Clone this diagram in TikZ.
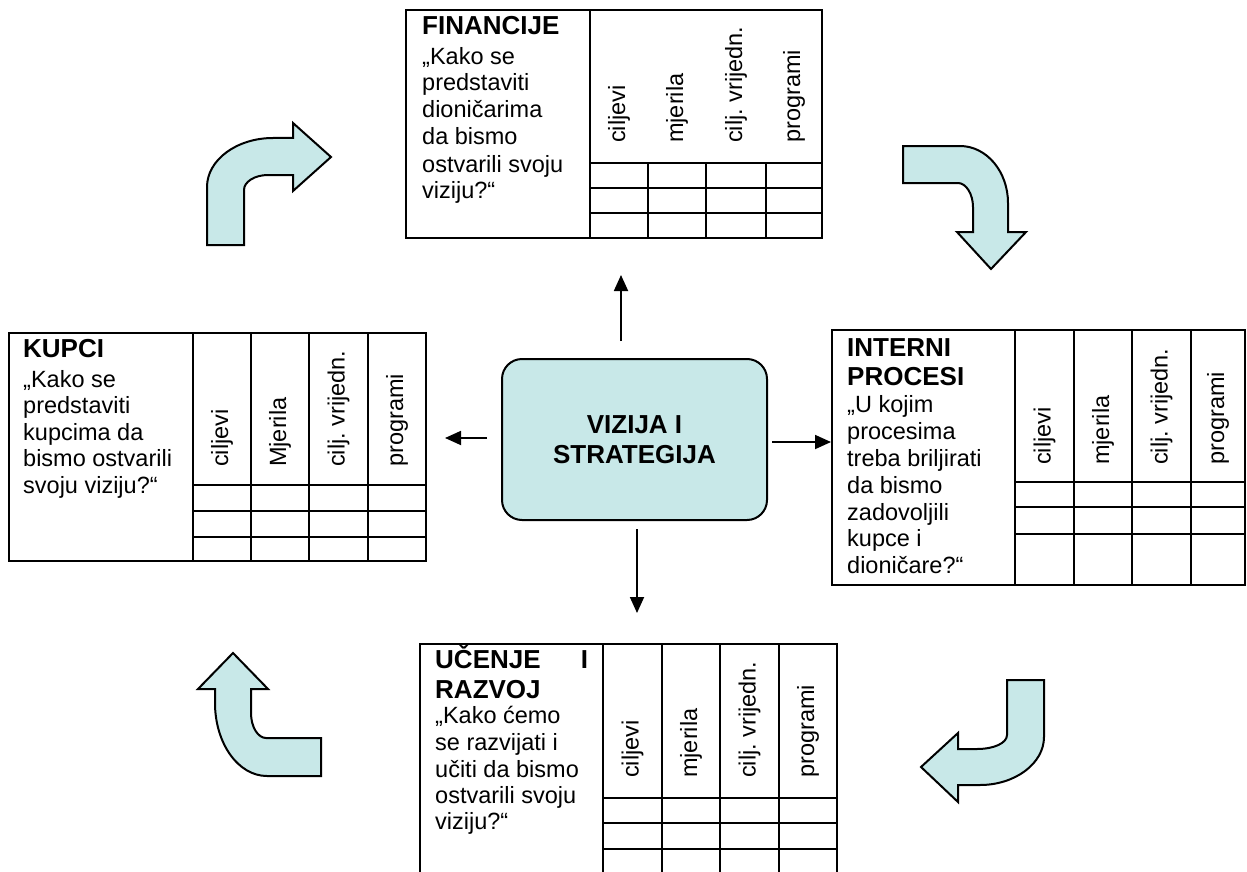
\documentclass[tikz,border=0pt]{standalone}
\usepackage{fontspec}
\setmainfont{Liberation Sans}
\usetikzlibrary{arrows.meta}
\definecolor{fillblue}{RGB}{200,232,232}
\frenchspacing
\begin{document}
\begin{tikzpicture}[x=1pt,y=-1pt,
  panel/.style={draw, line width=2pt, rectangle, inner sep=0pt, outer sep=0pt, anchor=north west},
  gridline/.style={line width=2pt},
  body/.style={anchor=base west, inner sep=0pt, font=\fontsize{23.5}{27}\selectfont},
  titletxt/.style={anchor=base west, inner sep=0pt, font=\fontsize{26}{30}\selectfont\bfseries},
  collabel/.style={rotate=90, anchor=west, inner sep=0pt, font=\fontsize{23.5}{27}\selectfont},
  conn/.style={line width=1.8pt, -{Triangle[length=16pt,width=14pt]}},
  blockarrow/.style={draw, line width=2pt, fill=fillblue, line join=miter}]
\useasboundingbox (0,0) rectangle (1247,872);

% ---------- FINANCIJE ----------
\node[panel, minimum width=416, minimum height=228] (fin) at (406,10) {};
\draw[gridline] (590,10) -- (590,238);
\foreach \x in {648,706,766} \draw[gridline] (\x,163) -- (\x,238);
\foreach \y in {163,188,213} \draw[gridline] (590,\y) -- (822,\y);
\node[titletxt] (fin-t) at (422,35) {FINANCIJE};
\foreach \yy/\t [count=\i] in {65/{„Kako se},91/{predstaviti},118/{dioničarima},145/{da bismo},172/{ostvarili svoju},198/{viziju?“}}
  \node[body] (fin-\i) at (422,\yy) {\t};
\foreach \xx/\t [count=\i] in {619/{ciljevi},677/{mjerila},736/{cilj. vrijedn.},794/{programi}}
  \node[collabel] (finc-\i) at (\xx,143) {\t};

% ---------- KUPCI ----------
\node[panel, minimum width=417, minimum height=228] (kup) at (9,333) {};
\draw[gridline] (193,333) -- (193,561);
\foreach \x in {251,309,368} \draw[gridline] (\x,333) -- (\x,561);
\foreach \y in {485,511,537} \draw[gridline] (193,\y) -- (426,\y);
\node[titletxt] (kup-t) at (23,357) {KUPCI};
\foreach \yy/\t [count=\i] in {387/{„Kako se},413/{predstaviti},440/{kupcima da},466/{bismo ostvarili},493/{svoju viziju?“}}
  \node[body] (kup-\i) at (23,\yy) {\t};
\foreach \xx/\t [count=\i] in {222/{ciljevi},280/{Mjerila},338.5/{cilj. vrijedn.},397/{programi}}
  \node[collabel] (kupc-\i) at (\xx,467) {\t};

% ---------- INTERNI PROCESI ----------
\node[panel, minimum width=413, minimum height=255] (int) at (832,330) {};
\draw[gridline] (1015,330) -- (1015,585);
\foreach \x in {1074,1132,1191} \draw[gridline] (\x,330) -- (\x,585);
\foreach \y in {482,507,534} \draw[gridline] (1015,\y) -- (1245,\y);
\node[titletxt] (int-t1) at (847,356) {INTERNI};
\node[titletxt] (int-t2) at (847,385) {PROCESI};
\foreach \yy/\t [count=\i] in {412/{„U kojim},439/{procesima},466/{treba briljirati},493/{da bismo},520/{zadovoljili},546/{kupce i},573/{dioničare?“}}
  \node[body] (int-\i) at (847,\yy) {\t};
\foreach \xx/\t [count=\i] in {1044.5/{ciljevi},1103/{mjerila},1161.5/{cilj. vrijedn.},1218/{programi}}
  \node[collabel] (intc-\i) at (\xx,465) {\t};

% ---------- UCENJE I RAZVOJ ----------
\node[panel, minimum width=417, minimum height=250] (uce) at (420,644) {};
\draw[gridline] (603,644) -- (603,894);
\foreach \x in {662,720,779} \draw[gridline] (\x,644) -- (\x,894);
\foreach \y in {798,823,849} \draw[gridline] (603,\y) -- (837,\y);
\node[titletxt] (uce-t1) at (435,668) {\makebox[153pt][s]{UČENJE\hfill I}};
\node[titletxt] (uce-t2) at (435,698) {RAZVOJ};
\foreach \yy/\t [count=\i] in {723/{„Kako ćemo},750/{se razvijati i},777/{učiti da bismo},803/{ostvarili svoju},829/{viziju?“}}
  \node[body] (uce-\i) at (435,\yy) {\t};
\foreach \xx/\t [count=\i] in {632.5/{ciljevi},691/{mjerila},749.5/{cilj. vrijedn.},808/{programi}}
  \node[collabel] (ucec-\i) at (\xx,778) {\t};

% ---------- centre ----------
\node[draw, line width=2pt, fill=fillblue, rounded corners=20pt, minimum width=265, minimum height=161,
      inner sep=0pt, align=center, font=\fontsize{26}{30}\selectfont\bfseries] (cen) at (634.5,439.5)
      {VIZIJA I\\STRATEGIJA};

% ---------- connectors ----------
\coordinate (upS) at (621,341);   \coordinate (upE) at (621,275);
\coordinate (lfS) at (487,438);   \coordinate (lfE) at (445,438);
\coordinate (rtS) at (772,442);   \coordinate (rtE) at (831,442);
\coordinate (dnS) at (637,529);   \coordinate (dnE) at (637,613);
\draw[conn] (upS) -- (upE);
\draw[conn] (lfS) -- (lfE);
\draw[conn] (rtS) -- (rtE);
\draw[conn] (dnS) -- (dnE);

% ---------- block arrows ----------
\draw[blockarrow] (207,245) -- (207,187) .. controls (207,160) and (236.6,138) .. (273,138)
  -- (293,138) -- (293,123) -- (331,157) -- (293,191) -- (293,175) -- (268,175)
  .. controls (254.8,175) and (244,181.7) .. (244,190) -- (244,245) -- cycle;
\draw[blockarrow] (903,146) -- (960,146) .. controls (986.5,146) and (1008,171.5) .. (1008,203)
  -- (1008,232) -- (1026,232) -- (991,269) -- (957,232) -- (973,232) -- (973,207)
  .. controls (973,194) and (966,183) .. (958,183) -- (903,183) -- cycle;
\draw[blockarrow] (233,653) -- (268,689) -- (251,689) -- (251,713)
  .. controls (251,727) and (258,738) .. (266,738) -- (321,738) -- (321,776) -- (267,776)
  .. controls (238,776) and (215,743) .. (215,703) -- (215,689) -- (198,689) -- cycle;
\draw[blockarrow] (1007,680) -- (1044,680) -- (1044,737) .. controls (1044,763.5) and (1015,785) .. (980,785)
  -- (958,785) -- (958,802) -- (921,767) -- (958,733) -- (958,749) -- (977,749)
  .. controls (994,749) and (1007,743) .. (1007,735) -- cycle;
\end{tikzpicture}
\end{document}
